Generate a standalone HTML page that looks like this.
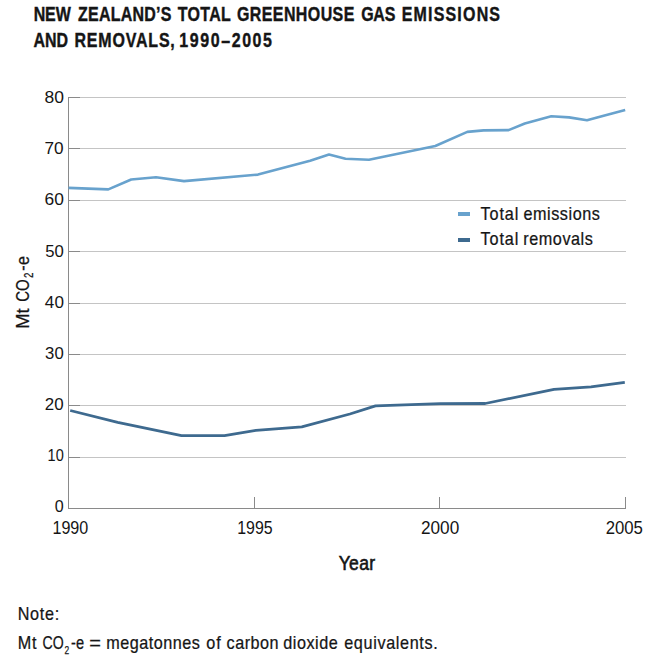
<!DOCTYPE html>
<html><head><meta charset="utf-8">
<title>New Zealand's total greenhouse gas emissions and removals, 1990-2005</title>
<style>
html,body{margin:0;padding:0;background:#fff;}
body{width:670px;height:656px;overflow:hidden;}
svg{display:block;}
text{font-family:"Liberation Sans",sans-serif;fill:#151515;}
text.b{font-weight:bold;stroke:#151515;stroke-width:0.4px;}
text.r{stroke:#151515;stroke-width:0.25px;}
text.m{stroke:#151515;stroke-width:0.6px;}
text.n{stroke:none;}
</style></head><body>
<svg width="670" height="656" viewBox="0 0 670 656">
<rect width="670" height="656" fill="#fff"/>
<g stroke="#c4c4c4" stroke-width="1" shape-rendering="crispEdges">
<line x1="69" y1="97.5" x2="626" y2="97.5"/>
<line x1="69" y1="148.5" x2="626" y2="148.5"/>
<line x1="69" y1="200.5" x2="626" y2="200.5"/>
<line x1="69" y1="251.5" x2="626" y2="251.5"/>
<line x1="69" y1="303.5" x2="626" y2="303.5"/>
<line x1="69" y1="354.5" x2="626" y2="354.5"/>
<line x1="69" y1="405.5" x2="626" y2="405.5"/>
<line x1="69" y1="457.5" x2="626" y2="457.5"/>
</g>
<g stroke="#8a8a8a" stroke-width="1" shape-rendering="crispEdges" fill="none">
<line x1="69" y1="97.5" x2="80" y2="97.5"/>
<line x1="69" y1="148.5" x2="80" y2="148.5"/>
<line x1="69" y1="200.5" x2="80" y2="200.5"/>
<line x1="69" y1="251.5" x2="80" y2="251.5"/>
<line x1="69" y1="303.5" x2="80" y2="303.5"/>
<line x1="69" y1="354.5" x2="80" y2="354.5"/>
<line x1="69" y1="405.5" x2="80" y2="405.5"/>
<line x1="69" y1="457.5" x2="80" y2="457.5"/>
<polyline points="68.5,97 68.5,508.5 625.5,508.5 625.5,497"/>
<line x1="254.5" y1="497" x2="254.5" y2="508"/>
<line x1="439.5" y1="497" x2="439.5" y2="508"/>
</g>
<polyline fill="none" stroke="#68a2cd" stroke-width="2.6" stroke-linejoin="round" points="68.5,187.9 108.3,189.4 131.2,179.5 156,177.3 184,181.1 258,174.6 310.1,160.7 329,154.5 345.5,158.7 369,159.8 435.3,146 467.3,131.9 483.6,130.4 508.6,130.1 524.8,123.5 551.3,116.3 569.1,117.4 587,120.3 602.7,116.0 625.2,109.9"/>
<polyline fill="none" stroke="#3e6a8f" stroke-width="2.8" stroke-linejoin="round" points="70.2,410.5 117.7,422.4 181.5,435.6 224.5,435.6 256,430.3 301.8,426.9 349.9,414 375.5,405.9 440.3,403.7 485.2,403.5 554,389.4 591,386.8 624.8,382.3"/>
<rect x="458" y="212" width="12" height="4" fill="#68a2cd"/>
<rect x="458" y="238" width="12" height="4" fill="#3e6a8f"/>
<text class="b" transform="translate(33.67,21.1) scale(0.82,1)" style="font-size:19.5px" textLength="45.27" lengthAdjust="spacing">NEW</text>
<text class="b" transform="translate(78.12,21.1) scale(0.82,1)" style="font-size:19.5px" textLength="113.68" lengthAdjust="spacing">ZEALAND’S</text>
<text class="b" transform="translate(177.79,21.1) scale(0.82,1)" style="font-size:19.5px" textLength="64.69" lengthAdjust="spacing">TOTAL</text>
<text class="b" transform="translate(236.97,21.1) scale(0.82,1)" style="font-size:19.5px" textLength="143.14" lengthAdjust="spacing">GREENHOUSE</text>
<text class="b" transform="translate(361.13,21.1) scale(0.82,1)" style="font-size:19.5px" textLength="41.68" lengthAdjust="spacing">GAS</text>
<text class="b" transform="translate(401.66,21.1) scale(0.82,1)" style="font-size:19.5px" textLength="119.98" lengthAdjust="spacing">EMISSIONS</text>
<text class="b" transform="translate(33.44,46.9) scale(0.82,1)" style="font-size:19.5px" textLength="42.28" lengthAdjust="spacing">AND</text>
<text class="b" transform="translate(74.51,46.9) scale(0.82,1)" style="font-size:19.5px" textLength="122.34" lengthAdjust="spacing">REMOVALS,</text>
<text class="b" transform="translate(179.23,46.9) scale(0.82,1)" style="font-size:19.5px" textLength="113.14" lengthAdjust="spacing">1990–2005</text>
<text class="n" x="44.48" y="103.1" style="font-size:17px" textLength="19.45" lengthAdjust="spacingAndGlyphs">80</text>
<text class="n" x="44.52" y="154.1" style="font-size:17px" textLength="19.13" lengthAdjust="spacingAndGlyphs">70</text>
<text class="n" x="44.54" y="205.1" style="font-size:17px" textLength="19.33" lengthAdjust="spacingAndGlyphs">60</text>
<text class="n" x="45.24" y="257.1" style="font-size:17px" textLength="18.59" lengthAdjust="spacingAndGlyphs">50</text>
<text class="n" x="44.89" y="308.1" style="font-size:17px" textLength="19.02" lengthAdjust="spacingAndGlyphs">40</text>
<text class="n" x="45.11" y="359.2" style="font-size:17px" textLength="18.59" lengthAdjust="spacingAndGlyphs">30</text>
<text class="n" x="44.82" y="410.2" style="font-size:17px" textLength="18.83" lengthAdjust="spacingAndGlyphs">20</text>
<text class="n" x="47.55" y="461.1" style="font-size:17px" textLength="16.18" lengthAdjust="spacingAndGlyphs">10</text>
<text class="n" x="54.78" y="512.1" style="font-size:17px" textLength="8.95" lengthAdjust="spacingAndGlyphs">0</text>
<text class="n" x="52.44" y="534.3" style="font-size:17.5px" textLength="35.86" lengthAdjust="spacingAndGlyphs">1990</text>
<text class="n" x="237.21" y="534.3" style="font-size:17.5px" textLength="35.36" lengthAdjust="spacingAndGlyphs">1995</text>
<text class="n" x="420.94" y="534.3" style="font-size:17.5px" textLength="38.26" lengthAdjust="spacingAndGlyphs">2000</text>
<text class="n" x="605.69" y="534.3" style="font-size:17.5px" textLength="37.25" lengthAdjust="spacingAndGlyphs">2005</text>
<text class="m" transform="translate(338.69,569.9) scale(0.9,1)" style="font-size:19.5px" textLength="40.44" lengthAdjust="spacing">Year</text>
<text class="r" transform="translate(480.54,220.2) scale(0.9,1)" style="font-size:18px" textLength="42.05" lengthAdjust="spacing">Total</text>
<text class="r" transform="translate(523.42,220.2) scale(0.9,1)" style="font-size:18px" textLength="84.93" lengthAdjust="spacing">emissions</text>
<text class="r" transform="translate(480.54,245.0) scale(0.9,1)" style="font-size:18px" textLength="42.05" lengthAdjust="spacing">Total</text>
<text class="r" transform="translate(523.34,245.0) scale(0.9,1)" style="font-size:18px" textLength="77.20" lengthAdjust="spacing">removals</text>
<text class="r" transform="translate(17.63,620.0) scale(0.9,1)" style="font-size:18px" textLength="46.19" lengthAdjust="spacing">Note:</text>
<text class="r" transform="translate(17.63,649.0) scale(0.9,1)" style="font-size:18px" textLength="20.90" lengthAdjust="spacing">Mt</text>
<text class="r" x="42.56" y="649.0" style="font-size:18px" textLength="21.14" lengthAdjust="spacingAndGlyphs">CO</text>
<text class="r" x="64.62" y="653.8" style="font-size:11.5px" textLength="4.69" lengthAdjust="spacingAndGlyphs">2</text>
<text class="r" x="71.04" y="649.0" style="font-size:18px" textLength="12.99" lengthAdjust="spacingAndGlyphs">-e</text>
<text class="r" x="89.17" y="649.0" style="font-size:18px" textLength="11.68" lengthAdjust="spacingAndGlyphs">=</text>
<text class="r" transform="translate(106.35,649.0) scale(0.9,1)" style="font-size:18px" textLength="103.96" lengthAdjust="spacing">megatonnes</text>
<text class="r" transform="translate(206.16,649.0) scale(0.9,1)" style="font-size:18px" textLength="16.33" lengthAdjust="spacing">of</text>
<text class="r" transform="translate(226.62,649.0) scale(0.9,1)" style="font-size:18px" textLength="57.74" lengthAdjust="spacing">carbon</text>
<text class="r" transform="translate(283.31,649.0) scale(0.9,1)" style="font-size:18px" textLength="60.53" lengthAdjust="spacing">dioxide</text>
<text class="r" transform="translate(344.22,649.0) scale(0.9,1)" style="font-size:18px" textLength="103.96" lengthAdjust="spacing">equivalents.</text>
<text class="r" transform="rotate(-90)" x="-328.85" y="29.2" style="font-size:18px" textLength="20.39" lengthAdjust="spacingAndGlyphs">Mt</text>
<text class="r" transform="rotate(-90)" x="-301.81" y="29.2" style="font-size:18px" textLength="22.49" lengthAdjust="spacingAndGlyphs">CO</text>
<text class="r" transform="rotate(-90)" x="-278.11" y="33.2" style="font-size:12px" textLength="5.42" lengthAdjust="spacingAndGlyphs">2</text>
<text class="r" transform="rotate(-90) translate(-270.67,29.2) scale(0.9,1)" style="font-size:18px" textLength="16.37" lengthAdjust="spacing">-e</text>
</svg>
</body></html>
